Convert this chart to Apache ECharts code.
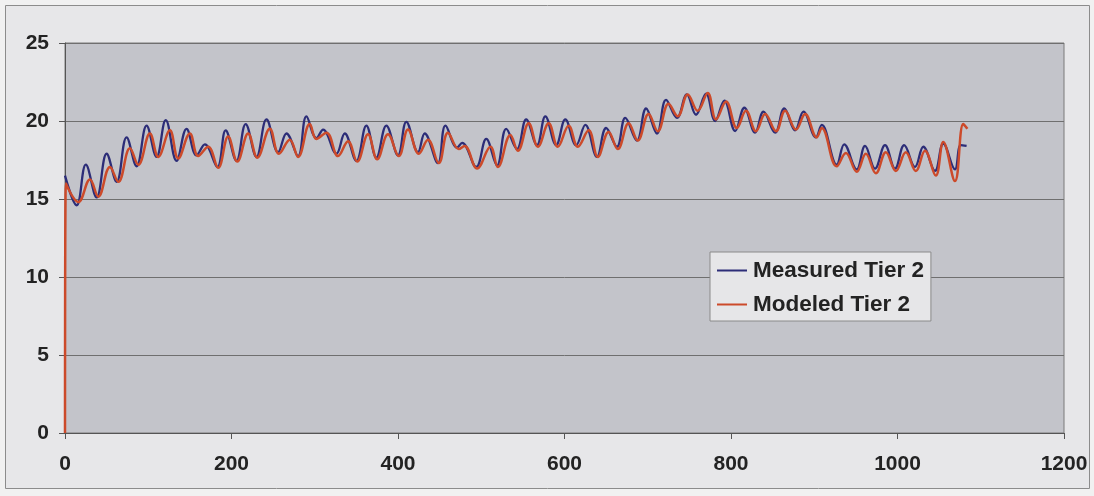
<!DOCTYPE html>
<html>
<head>
<meta charset="utf-8">
<script src="https://cdn.jsdelivr.net/npm/echarts@6/dist/echarts.min.js"></script>
<style>
  html, body { margin: 0; padding: 0; background: #f1f1f1; }
  #chart { width: 1094px; height: 496px; }
</style>
</head>
<body>
<div id="chart"></div>
<script>
// Hourly temperature readings for Tier 2: [hour, value] at each daily high and low.
const measuredTier2 = [
  [0,16.5],[14,14.6],[25,17.2],[38,15.1],[50,17.9],[62,16.1],[74,18.95],[86,17.1],
  [98,19.7],[110,17.7],[121,20.05],[134,17.45],[146,19.5],[158,17.8],[168,18.5],[183,17.05],
  [193,19.4],[206,17.45],[217,19.8],[230,17.7],[242,20.1],[256,18.0],[266,19.2],[280,17.75],
  [290,20.3],[302,18.9],[310,19.45],[326,17.9],[336,19.2],[350,17.45],[362,19.7],[374,17.65],
  [386,19.7],[400,17.8],[410,19.95],[424,18.0],[432,19.2],[448,17.3],[457,19.7],[471,18.3],
  [477,18.6],[494,17.05],[506,18.85],[519,17.15],[530,19.5],[543,18.2],[554,20.1],[567,18.45],
  [577,20.3],[590,18.45],[601,20.1],[614,18.45],[625,19.75],[639,17.7],[650,19.55],[663,18.35],
  [673,20.2],[687,18.75],[698,20.8],[711,19.2],[722,21.35],[735,20.2],[747,21.7],[758,20.4],
  [770,21.75],[781,20.0],[792,21.3],[805,19.35],[816,20.85],[829,19.25],[839,20.6],[853,19.25],
  [864,20.8],[877,19.4],[887,20.6],[902,18.95],[909,19.75],[927,17.2],[936,18.5],[951,16.9],
  [961,18.4],[973,16.95],[985,18.45],[997,16.95],[1008,18.45],[1021,17.05],[1031,18.35],[1045,16.8],
  [1055,18.55],[1069,16.9],[1076,18.45],[1083,18.4]
];

const modeledTier2 = [
  [0,0],[1,16.0],[16,14.8],[30,16.25],[40,15.15],[54,17.05],[64,16.1],[78,18.25],
  [88,17.2],[102,19.2],[112,17.7],[126,19.4],[136,17.6],[150,19.2],[160,17.75],[172,18.35],
  [184,17.0],[196,19.0],[207,17.4],[220,19.2],[231,17.65],[246,19.5],[257,17.9],[270,18.8],
  [280,17.7],[294,19.8],[302,18.85],[314,19.25],[328,17.75],[340,18.7],[351,17.4],[364,19.15],
  [375,17.55],[388,19.15],[401,17.75],[412,19.45],[425,17.9],[436,18.8],[449,17.3],[460,19.25],
  [473,18.2],[480,18.4],[495,16.95],[511,18.35],[520,17.05],[535,19.1],[544,18.1],[557,19.85],
  [568,18.35],[581,19.85],[592,18.35],[605,19.7],[616,18.35],[629,19.4],[640,17.7],[653,19.3],
  [664,18.2],[677,19.85],[688,18.75],[701,20.45],[712,19.35],[725,21.1],[736,20.3],[748,21.7],
  [760,20.65],[772,21.8],[782,20.1],[794,21.25],[807,19.55],[818,20.65],[830,19.35],[841,20.45],
  [854,19.35],[865,20.65],[878,19.45],[889,20.45],[903,18.95],[909,19.55],[927,17.1],[938,17.95],
  [951,16.75],[962,17.9],[974,16.65],[986,18.0],[998,16.8],[1010,18.0],[1022,16.8],[1033,18.1],
  [1046,16.5],[1055,18.65],[1069,16.15],[1079,19.8],[1084,19.5]
];

const seriesNames = ['Measured Tier 2', 'Modeled Tier 2'];
const seriesColors = ['#2c2d78', '#cc4a2a'];

const xMin = 0, xMax = 1200, xStep = 200;
const yMin = 0, yMax = 25, yStep = 5;

const chart = echarts.init(document.getElementById('chart'), null, { renderer: 'canvas' });

const labelFont = {
  color: '#232323',
  fontFamily: '"Liberation Sans", Arial, sans-serif',
  fontWeight: 'bold',
  fontSize: 21
};

chart.setOption({
  animation: false,
  backgroundColor: 'transparent',
  graphic: [{
    type: 'rect',
    z: -10,
    silent: true,
    shape: { x: 5.5, y: 5.5, width: 1084, height: 483 },
    style: { fill: '#e7e7e9', stroke: '#8c8c8c', lineWidth: 1 }
  }],
  grid: {
    left: 65, right: 30, top: 43, bottom: 63,
    show: true,
    backgroundColor: '#c3c4ca',
    borderColor: '#7a7a7a',
    borderWidth: 1
  },
  legend: {
    orient: 'vertical',
    left: 710, top: 252,
    data: seriesNames,
    icon: 'rect',
    itemWidth: 30,
    itemHeight: 2,
    itemGap: 11,
    padding: [7, 7, 5, 7],
    backgroundColor: '#e6e6e8',
    borderColor: '#8a8a8a',
    borderWidth: 1,
    borderRadius: 0,
    textStyle: Object.assign({}, labelFont, { fontSize: 22.5, padding: [0, 0, 0, 1] })
  },
  xAxis: {
    type: 'value',
    min: xMin, max: xMax, interval: xStep,
    axisLine: { show: true, lineStyle: { color: '#555', width: 1 } },
    axisTick: { show: true, length: 6, lineStyle: { color: '#555' } },
    axisLabel: Object.assign({ margin: 21, formatter: v => String(v) }, labelFont),
    splitLine: { show: false }
  },
  yAxis: {
    type: 'value',
    min: yMin, max: yMax, interval: yStep,
    axisLine: { show: true, lineStyle: { color: '#555', width: 1 } },
    axisTick: { show: true, length: 6, lineStyle: { color: '#555' } },
    axisLabel: Object.assign({ margin: 16 }, labelFont),
    splitLine: { show: true, lineStyle: { color: '#6f6f6f', width: 1 } }
  },
  series: [
    {
      name: seriesNames[0],
      type: 'line',
      data: measuredTier2,
      symbol: 'none',
      smooth: 0.4,
      color: seriesColors[0],
      lineStyle: { color: seriesColors[0], width: 2.3 }
    },
    {
      name: seriesNames[1],
      type: 'line',
      data: modeledTier2,
      symbol: 'none',
      smooth: 0.4,
      color: seriesColors[1],
      lineStyle: { color: seriesColors[1], width: 2.5 }
    }
  ]
});
</script>
</body>
</html>
